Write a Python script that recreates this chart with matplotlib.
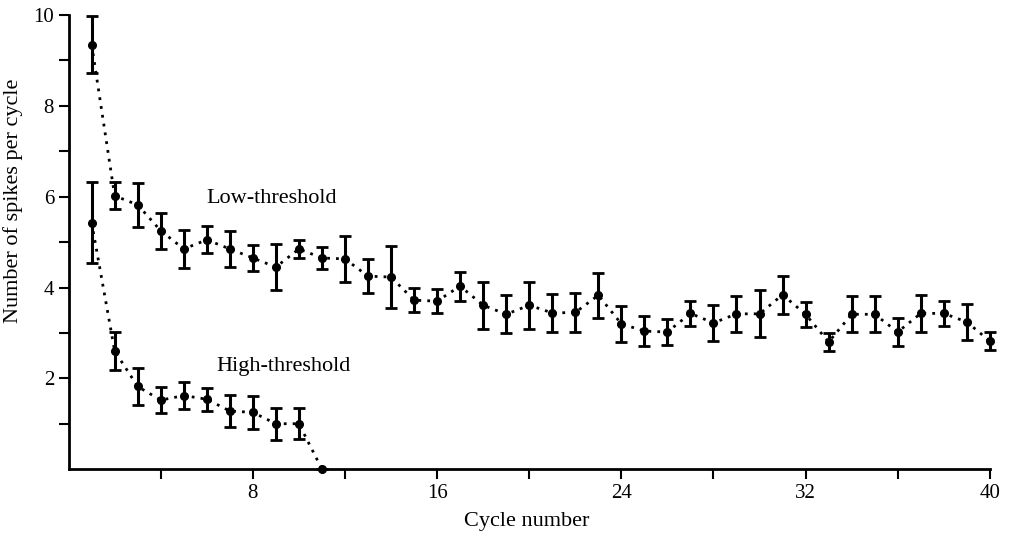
import matplotlib
matplotlib.use('Agg')
import matplotlib.pyplot as plt

plt.rcParams['font.family'] = ['Liberation Serif', 'DejaVu Serif']

# low-threshold cells, cycles 1-40
low_cycle = list(range(1, 41))
low_mean = [9.35, 6.02, 5.82, 5.25, 4.85, 5.05, 4.85, 4.65, 4.45, 4.85,
            4.65, 4.63, 4.25, 4.23, 3.72, 3.70, 4.03, 3.61, 3.41, 3.61,
            3.44, 3.45, 3.83, 3.20, 3.04, 3.02, 3.43, 3.22, 3.42, 3.42,
            3.84, 3.41, 2.80, 3.41, 3.41, 3.02, 3.43, 3.43, 3.24, 2.82]
low_err = [0.63, 0.30, 0.48, 0.40, 0.42, 0.30, 0.40, 0.28, 0.50, 0.20,
           0.24, 0.50, 0.38, 0.68, 0.26, 0.26, 0.32, 0.52, 0.42, 0.52,
           0.42, 0.42, 0.50, 0.40, 0.33, 0.28, 0.27, 0.40, 0.40, 0.52,
           0.42, 0.27, 0.20, 0.40, 0.40, 0.30, 0.40, 0.27, 0.40, 0.20]

# high-threshold cells, cycles 1-11
high_cycle = list(range(1, 12))
high_mean = [5.43, 2.60, 1.82, 1.52, 1.62, 1.54, 1.28, 1.25, 1.00, 1.00, 0.0]
high_err = [0.90, 0.41, 0.40, 0.29, 0.30, 0.25, 0.35, 0.36, 0.35, 0.34, 0.0]

xticks = [4, 8, 12, 16, 20, 24, 28, 32, 36, 40]
xticklabels = ['', '8', '', '16', '', '24', '', '32', '', '40']
yticks = [1, 2, 3, 4, 5, 6, 7, 8, 9, 10]
yticklabels = ['', '2', '', '4', '', '6', '', '8', '', '10']

fig = plt.figure(figsize=(10.09, 5.38), dpi=100)
ax = fig.add_axes([0.068, 0.128, 0.913, 0.844])

for x, y, e in [(low_cycle, low_mean, low_err), (high_cycle, high_mean, high_err)]:
    ax.errorbar(x, y, yerr=e, color='black', ls=(0, (1, 2.2)), lw=2,
                marker='o', ms=5.5, capsize=4, capthick=2, elinewidth=2.2,
                clip_on=False, zorder=3)

ax.text(6.0, 5.95, 'Low-threshold', fontsize=16, va='center', ha='left')
ax.text(6.4, 2.27, 'High-threshold', fontsize=16, va='center', ha='left')

ax.set_xlim(0, 40)
ax.set_ylim(0, 10)
ax.set_xticks(xticks)
ax.set_xticklabels(xticklabels)
ax.set_yticks(yticks)
ax.set_yticklabels(yticklabels)
ax.tick_params(direction='out', length=7, width=1.5, labelsize=15)
ax.spines['top'].set_visible(False)
ax.spines['right'].set_visible(False)
ax.spines['left'].set_linewidth(2)
ax.spines['bottom'].set_linewidth(2)
ax.set_xlabel('Cycle number', fontsize=16)
ax.set_ylabel('Number of spikes per cycle', fontsize=16)
ax.xaxis.set_label_coords(0.497, -0.095)
ax.yaxis.set_label_coords(-0.05, 0.59)

fig.savefig('out.png', dpi=100)
